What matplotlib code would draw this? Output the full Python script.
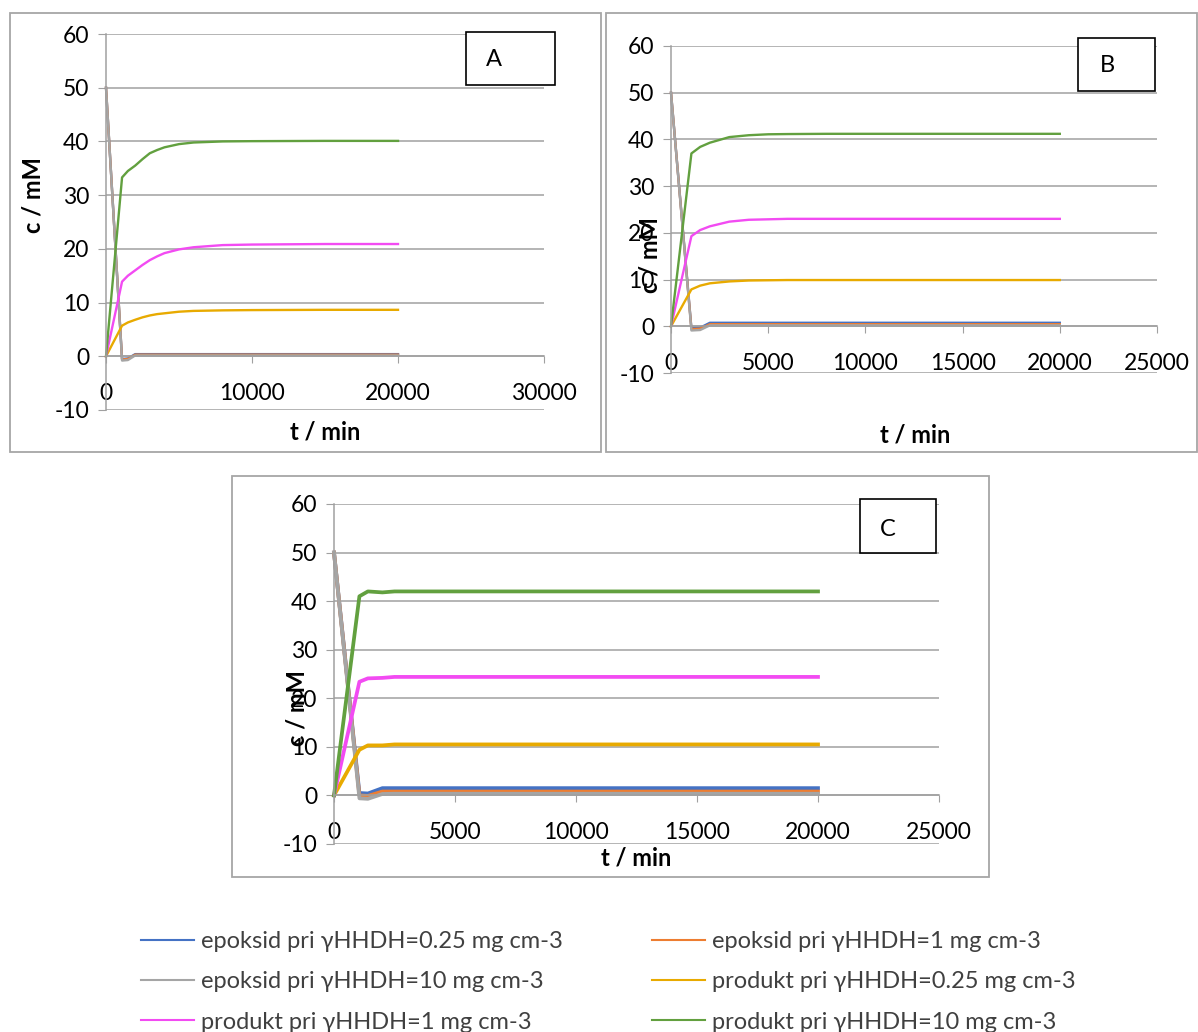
import matplotlib
matplotlib.use("Agg")
import matplotlib.pyplot as plt
from matplotlib.patches import Rectangle

plt.rcParams['font.family'] = ['Lato', 'DejaVu Sans']
plt.rcParams['axes.unicode_minus'] = False

W, H = 1198, 1032

labels = ['epoksid pri γHHDH=0.25 mg cm-3', 'epoksid pri γHHDH=1 mg cm-3',
          'epoksid pri γHHDH=10 mg cm-3', 'produkt pri γHHDH=0.25 mg cm-3',
          'produkt pri γHHDH=1 mg cm-3', 'produkt pri γHHDH=10 mg cm-3']
colors = ['#4472C4', '#ED7D31', '#A5A5A5', '#E8AA00', '#F24BF2', '#62A03F']

# panel A
t_A = [0, 1100, 1500, 2000, 2500, 3000, 3500, 4000, 5000, 6000, 8000, 10000, 15000, 20000]
A_ep025 = [50, -0.5, -0.4, 0.4, 0.4, 0.4, 0.4, 0.4, 0.4, 0.4, 0.4, 0.4, 0.4, 0.4]
A_ep1 = [50, -0.6, -0.5, 0.3, 0.3, 0.3, 0.3, 0.3, 0.3, 0.3, 0.3, 0.3, 0.3, 0.3]
A_ep10 = [50, -0.8, -0.7, 0.15, 0.15, 0.15, 0.15, 0.15, 0.15, 0.15, 0.15, 0.15, 0.15, 0.15]
A_pr025 = [0, 5.7, 6.3, 6.8, 7.25, 7.6, 7.85, 8.0, 8.3, 8.45, 8.55, 8.6, 8.65, 8.65]
A_pr1 = [0, 13.9, 15.0, 16.0, 17.0, 17.9, 18.6, 19.2, 19.9, 20.3, 20.7, 20.8, 20.9, 20.9]
A_pr10 = [0, 33.3, 34.5, 35.5, 36.7, 37.8, 38.4, 38.9, 39.5, 39.8, 40.0, 40.05, 40.1, 40.1]

# panel B
t_B = [0, 1050, 1500, 2000, 3000, 4000, 5000, 6000, 8000, 10000, 15000, 20000]
B_ep025 = [50, -0.4, -0.3, 0.75, 0.75, 0.75, 0.75, 0.75, 0.75, 0.75, 0.75, 0.75]
B_ep1 = [50, -0.6, -0.5, 0.45, 0.45, 0.45, 0.45, 0.45, 0.45, 0.45, 0.45, 0.45]
B_ep10 = [50, -0.9, -0.8, 0.2, 0.2, 0.2, 0.2, 0.2, 0.2, 0.2, 0.2, 0.2]
B_pr025 = [0, 7.9, 8.7, 9.2, 9.6, 9.8, 9.85, 9.9, 9.9, 9.9, 9.9, 9.9]
B_pr1 = [0, 19.3, 20.6, 21.4, 22.4, 22.8, 22.9, 23.0, 23.0, 23.0, 23.0, 23.0]
B_pr10 = [0, 37.0, 38.4, 39.3, 40.5, 40.9, 41.1, 41.15, 41.2, 41.2, 41.2, 41.2]

# panel C
t_C = [0, 1050, 1400, 2000, 2500, 3000, 5000, 10000, 15000, 20000]
C_ep025 = [50, 0.5, 0.4, 1.5, 1.5, 1.5, 1.5, 1.5, 1.5, 1.5]
C_ep1 = [50, 0.0, -0.1, 0.8, 0.8, 0.8, 0.8, 0.8, 0.8, 0.8]
C_ep10 = [50, -0.6, -0.7, 0.3, 0.35, 0.35, 0.35, 0.35, 0.35, 0.35]
C_pr025 = [0, 9.4, 10.3, 10.3, 10.5, 10.5, 10.5, 10.5, 10.5, 10.5]
C_pr1 = [0, 23.4, 24.1, 24.2, 24.4, 24.4, 24.4, 24.4, 24.4, 24.4]
C_pr10 = [0, 41.0, 42.0, 41.8, 42.0, 42.0, 42.0, 42.0, 42.0, 42.0]

y_ticks = [-10, 0, 10, 20, 30, 40, 50, 60]
grid_col = '#A0A0A0'


def fx(x):
    return x / W


def fy(y):
    return 1 - y / H


fig = plt.figure(figsize=(W / 100, H / 100), dpi=100)

# outer frames of the three charts
for x0, y0, x1, y1 in [(10, 13, 601, 452), (606, 13, 1197, 452), (232, 476, 989, 877)]:
    fig.add_artist(Rectangle((fx(x0), fy(y1)), fx(x1 - x0), (y1 - y0) / H,
                             transform=fig.transFigure, fill=False,
                             edgecolor='#A6A6A6', lw=1.3))


def panel(box, t, series, xmax, xstep, lw, letter, lbox, lpos, ylab, xlab):
    l, r, top, bot = box
    ax = fig.add_axes([fx(l), fy(bot), fx(r - l), (bot - top) / H])
    for s, c in zip(series, colors):
        ax.plot(t, s, color=c, lw=lw, solid_joinstyle='round', clip_on=False)
    ax.set_xlim(0, xmax)
    ax.set_ylim(-10, 60)
    ax.set_yticks(y_ticks)
    ax.set_xticks(list(range(0, xmax + 1, xstep)))
    ax.grid(axis='y', color=grid_col, lw=1.1)
    ax.set_axisbelow(True)
    for sp in ['top', 'right']:
        ax.spines[sp].set_visible(False)
    ax.spines['bottom'].set_position(('data', 0))
    ax.spines['bottom'].set_color(grid_col)
    ax.spines['left'].set_color(grid_col)
    ax.spines['bottom'].set_linewidth(1.1)
    ax.spines['left'].set_linewidth(1.1)
    ax.tick_params(axis='y', length=6, color=grid_col, pad=6, labelsize=16.5)
    ax.tick_params(axis='x', length=5, color=grid_col, pad=14, labelsize=16.5)
    ax.patch.set_alpha(0)
    # letter box
    bx0, by0, bx1, by1 = lbox
    fig.add_artist(Rectangle((fx(bx0), fy(by1)), fx(bx1 - bx0), (by1 - by0) / H,
                             transform=fig.transFigure, facecolor='white',
                             edgecolor='black', lw=1.2, zorder=5))
    fig.text(fx(lpos[0]), fy(lpos[1]), letter, fontsize=17,
             ha='center', va='center', zorder=6)
    fig.text(fx(ylab[0]), fy(ylab[1]), 'c / mM', rotation=90, fontsize=17,
             fontweight='bold', ha='center', va='center')
    fig.text(fx(xlab[0]), fy(xlab[1]), 't / min', fontsize=17,
             fontweight='bold', ha='center', va='center')
    return ax


panel((106, 544, 34, 410), t_A, [A_ep025, A_ep1, A_ep10, A_pr025, A_pr1, A_pr10],
      30000, 10000, 1.7, 'A', (466, 32, 555, 85), (494, 60), (33, 195), (325, 432))
panel((671, 1157, 46, 373), t_B, [B_ep025, B_ep1, B_ep10, B_pr025, B_pr1, B_pr10],
      25000, 5000, 1.7, 'B', (1078, 38, 1155, 91), (1107, 66), (650, 255), (915, 435))
panel((334, 939, 504, 844), t_C, [C_ep025, C_ep1, C_ep10, C_pr025, C_pr1, C_pr10],
      25000, 5000, 2.7, 'C', (860, 499, 936, 553), (888, 529), (297, 708), (636, 858))

# legend below the charts, filled row by row
handles = [plt.Line2D([], [], color=c, lw=1.5) for c in colors]
order = [0, 2, 4, 1, 3, 5]
fig.legend([handles[i] for i in order], [labels[i] for i in order], ncol=2,
           loc='upper left', bbox_to_anchor=(fx(141), fy(931)), frameon=False,
           fontsize=17, labelcolor='#404040', handlelength=2.25,
           handletextpad=0.3, columnspacing=3.75, labelspacing=0.82,
           borderaxespad=0, borderpad=0)

fig.savefig('out.png', dpi=100)
